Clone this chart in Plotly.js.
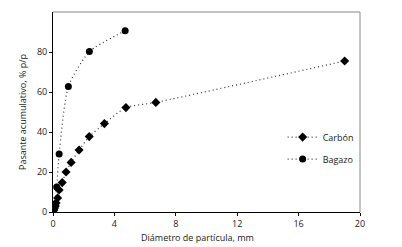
<!DOCTYPE html>
<html><head><meta charset="utf-8">
<script src="https://cdn.plot.ly/plotly-3.0.1.min.js"></script>
<style>html,body{margin:0;padding:0;background:#fff}#chart{width:402px;height:247px}</style>
</head><body><div id="chart"></div>
<script>
const carbonX = [0, 0.05, 0.1, 0.15, 0.2, 0.3, 0.4, 0.6, 0.85, 1.18, 1.7, 2.36, 3.35, 4.75, 6.7, 19];
const carbonY = [0, 1, 2, 3, 4.5, 7, 11, 14.7, 20, 24.8, 31, 37.7, 44.2, 52.2, 54.8, 75.5];
const bagazoX = [0, 0.05, 0.12, 0.24, 0.4, 1.0, 2.37, 4.7];
const bagazoY = [0, 1, 4, 12.5, 29, 62.8, 80.2, 90.6];
const xTicks = [0, 4, 8, 12, 16, 20];
const yTicks = [0, 20, 40, 60, 80];

const fam = 'Open Sans, Liberation Sans, sans-serif';
const font = {family: fam, size: 9, color: '#222'};
const traces = [
  {x: carbonX, y: carbonY, name: 'Carbón', legendgroup: 'a', mode: 'lines+markers', type: 'scatter',
   line: {color: '#333', width: 1.2, dash: '1px,3px', shape: 'spline', smoothing: 0.6},
   marker: {symbol: 'diamond', size: 7, color: '#000'}},
  {x: bagazoX, y: bagazoY, name: 'Bagazo', legendgroup: 'b', mode: 'lines+markers', type: 'scatter',
   line: {color: '#333', width: 1.2, dash: '1px,3px', shape: 'spline', smoothing: 0.6},
   marker: {symbol: 'circle', size: 7, color: '#000'}}
];
const layout = {
  width: 402, height: 247,
  margin: {l: 53, r: 42, t: 12, b: 35},
  paper_bgcolor: '#fff', plot_bgcolor: '#fff',
  font: font,
  showlegend: true,
  legend: {x: 0.748, y: 0.447, xanchor: 'left', yanchor: 'top', bgcolor: 'rgba(0,0,0,0)',
           font: {family: fam, size: 9, color: '#222'}, tracegroupgap: 3, itemwidth: 30},
  xaxis: {range: [0, 20], tickvals: xTicks, ticktext: xTicks.map(String), showgrid: false, zeroline: false,
          showline: true, linecolor: '#000', linewidth: 1, ticks: 'outside', ticklen: 3, tickcolor: '#000',
          fixedrange: true},
  yaxis: {range: [0, 100], tickvals: yTicks, ticktext: yTicks.map(String), showgrid: false, zeroline: false,
          showline: true, linecolor: '#000', linewidth: 1, ticks: 'outside', ticklen: 3, tickcolor: '#000',
          title: {text: 'Pasante acumulativo, % p/p', font: {family: fam, size: 9, color: '#222'}, standoff: 8},
          fixedrange: true},
  annotations: [
    {text: 'Diámetro de partícula, mm', xref: 'paper', yref: 'paper', x: 0.47, y: -0.128,
     xanchor: 'center', yanchor: 'middle', showarrow: false, font: {family: fam, size: 9, color: '#222'}}
  ],
  shapes: [
    {type: 'line', xref: 'paper', yref: 'paper', x0: 0, x1: 1, y0: 1, y1: 1, line: {color: '#888', width: 1}},
    {type: 'line', xref: 'paper', yref: 'paper', x0: 1, x1: 1, y0: 0, y1: 1, line: {color: '#888', width: 1}}
  ]
};
Plotly.newPlot('chart', traces, layout, {displayModeBar: false, staticPlot: true});
</script></body></html>
